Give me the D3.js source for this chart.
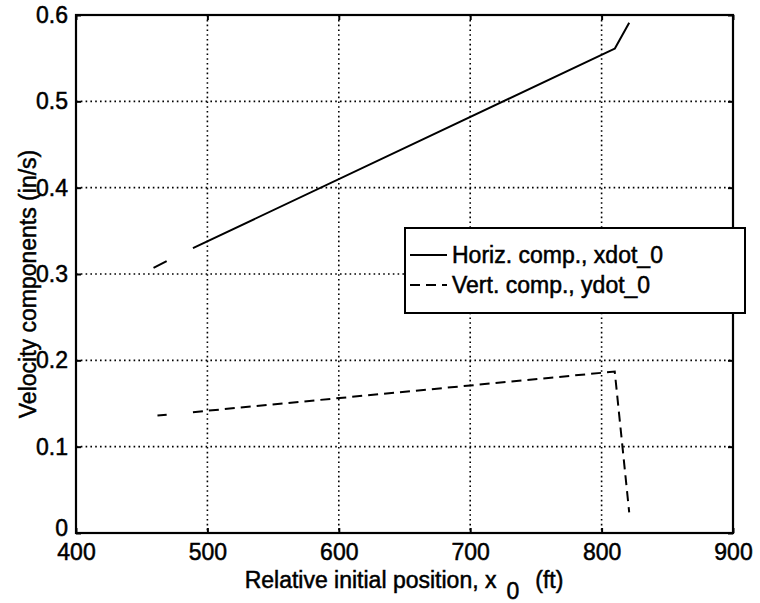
<!DOCTYPE html>
<html>
<head>
<meta charset="utf-8">
<script src="https://cdn.jsdelivr.net/npm/d3@7"></script>
<style>
  html, body { margin: 0; padding: 0; background: #fff; }
  svg { display: block; }
  text { font-family: "Liberation Sans", Arial, Helvetica, sans-serif; fill: #000; }
</style>
</head>
<body>
<svg id="chart" width="760" height="603"></svg>
<script>
// Axis ticks
const xTicks = [400, 500, 600, 700, 800, 900];
const yTicks = [0, 0.1, 0.2, 0.3, 0.4, 0.5, 0.6];
const yTickLabels = ["0", "0.1", "0.2", "0.3", "0.4", "0.5", "0.6"];

// Horizontal velocity component xdot_0 (null = no solution in that range)
const horizX = [459, 469, 479, 489, 810, 821];
const horizY = [0.307, 0.315, null, 0.330, 0.561, 0.591];

// Vertical velocity component ydot_0
const vertX = [462, 469, 479, 489, 810, 821];
const vertY = [0.136, 0.137, null, 0.140, 0.187, 0.024];

const seriesNames = ["Horiz. comp., xdot_0", "Vert. comp., ydot_0"];

const svg = d3.select("#chart");
const plot = { left: 76, top: 15, right: 733, bottom: 533 };

const x = d3.scaleLinear().domain([400, 900]).range([plot.left, plot.right]);
const y = d3.scaleLinear().domain([0, 0.6]).range([plot.bottom, plot.top]);

const FONT = 23;

// Dotted grid
const grid = svg.append("g").attr("stroke", "#000").attr("stroke-width", 1.6)
  .attr("stroke-dasharray", "1.6,3.2");
grid.selectAll("line.gx").data(xTicks.slice(1, -1)).join("line")
  .attr("x1", d => x(d)).attr("x2", d => x(d))
  .attr("y1", plot.top).attr("y2", plot.bottom);
grid.selectAll("line.gy").data(yTicks.slice(1, -1)).join("line")
  .attr("y1", d => y(d)).attr("y2", d => y(d))
  .attr("x1", plot.left).attr("x2", plot.right);

// Axes with inward ticks (bottom/left labelled, top/right plain)
const tickLen = 5;
const axB = svg.append("g").attr("transform", `translate(0,${plot.bottom})`)
  .call(d3.axisBottom(x).tickValues(xTicks).tickSizeInner(-tickLen).tickSizeOuter(0).tickPadding(10));
const axT = svg.append("g").attr("transform", `translate(0,${plot.top})`)
  .call(d3.axisTop(x).tickValues(xTicks).tickSizeInner(-tickLen).tickSizeOuter(0).tickFormat(""));
const axL = svg.append("g").attr("transform", `translate(${plot.left},0)`)
  .call(d3.axisLeft(y).tickValues(yTicks).tickSizeInner(-tickLen).tickSizeOuter(0).tickPadding(8)
    .tickFormat((d, i) => yTickLabels[i]));
const axR = svg.append("g").attr("transform", `translate(${plot.right},0)`)
  .call(d3.axisRight(y).tickValues(yTicks).tickSizeInner(-tickLen).tickSizeOuter(0).tickFormat(""));

[axB, axT, axL, axR].forEach(a => {
  a.select(".domain").remove();
  a.selectAll(".tick line").attr("stroke", "#000").attr("stroke-width", 2);
  a.selectAll("text").attr("font-size", FONT).attr("fill", "#000")
    .attr("stroke", "#000").attr("stroke-width", 0.5)
    .style("font-family", "'Liberation Sans', Arial, sans-serif");
});
axB.selectAll("text").attr("dy", "0.72em");
// "0" on the y axis sits just above the corner
axL.selectAll(".tick").filter(d => d === 0).select("text").attr("dy", "0.1em");

// Plot frame
svg.append("rect")
  .attr("x", plot.left).attr("y", plot.top)
  .attr("width", plot.right - plot.left).attr("height", plot.bottom - plot.top)
  .attr("fill", "none").attr("stroke", "#000").attr("stroke-width", 2.2);

// Curves
const line = (xs) => d3.line()
  .defined(d => d[1] !== null)
  .x(d => x(d[0])).y(d => y(d[1]));

const horizPts = horizX.map((v, i) => [v, horizY[i]]);
const vertPts = vertX.map((v, i) => [v, vertY[i]]);

svg.append("path").datum(horizPts).attr("d", line())
  .attr("fill", "none").attr("stroke", "#000").attr("stroke-width", 2)
  .attr("stroke-linejoin", "round");
svg.append("path").datum(vertPts).attr("d", line())
  .attr("fill", "none").attr("stroke", "#000").attr("stroke-width", 2)
  .attr("stroke-dasharray", "10,6");

// Legend
const lg = { x: 405, y: 228, w: 340, h: 85 };
svg.append("rect").attr("x", lg.x).attr("y", lg.y).attr("width", lg.w).attr("height", lg.h)
  .attr("fill", "#fff").attr("stroke", "#000").attr("stroke-width", 2);
const rowY = [lg.y + 27, lg.y + 57];
const styles = [null, "10,6"];
seriesNames.forEach((name, i) => {
  svg.append("line").attr("x1", lg.x + 5).attr("x2", lg.x + 42)
    .attr("y1", rowY[i]).attr("y2", rowY[i])
    .attr("stroke", "#000").attr("stroke-width", 2)
    .attr("stroke-dasharray", styles[i]);
  svg.append("text").attr("x", lg.x + 47).attr("y", rowY[i]).attr("dy", "0.36em")
    .attr("font-size", FONT).attr("stroke", "#000").attr("stroke-width", 0.5)
    .text(name);
});

// Axis labels
const xl = svg.append("text").attr("x", 404).attr("y", 588)
  .attr("text-anchor", "middle").attr("font-size", FONT)
  .attr("stroke", "#000").attr("stroke-width", 0.5);
xl.append("tspan").text("Relative initial position, x");
xl.append("tspan").attr("dx", 10).attr("dy", 11).text("0");
xl.append("tspan").attr("dx", 16).attr("dy", -11).text("(ft)");

svg.append("text")
  .attr("transform", `translate(36,${(plot.top + plot.bottom) / 2 + 10}) rotate(-90)`)
  .attr("text-anchor", "middle").attr("font-size", FONT)
  .attr("stroke", "#000").attr("stroke-width", 0.5)
  .text("Velocity components (in/s)");
</script>
</body>
</html>
